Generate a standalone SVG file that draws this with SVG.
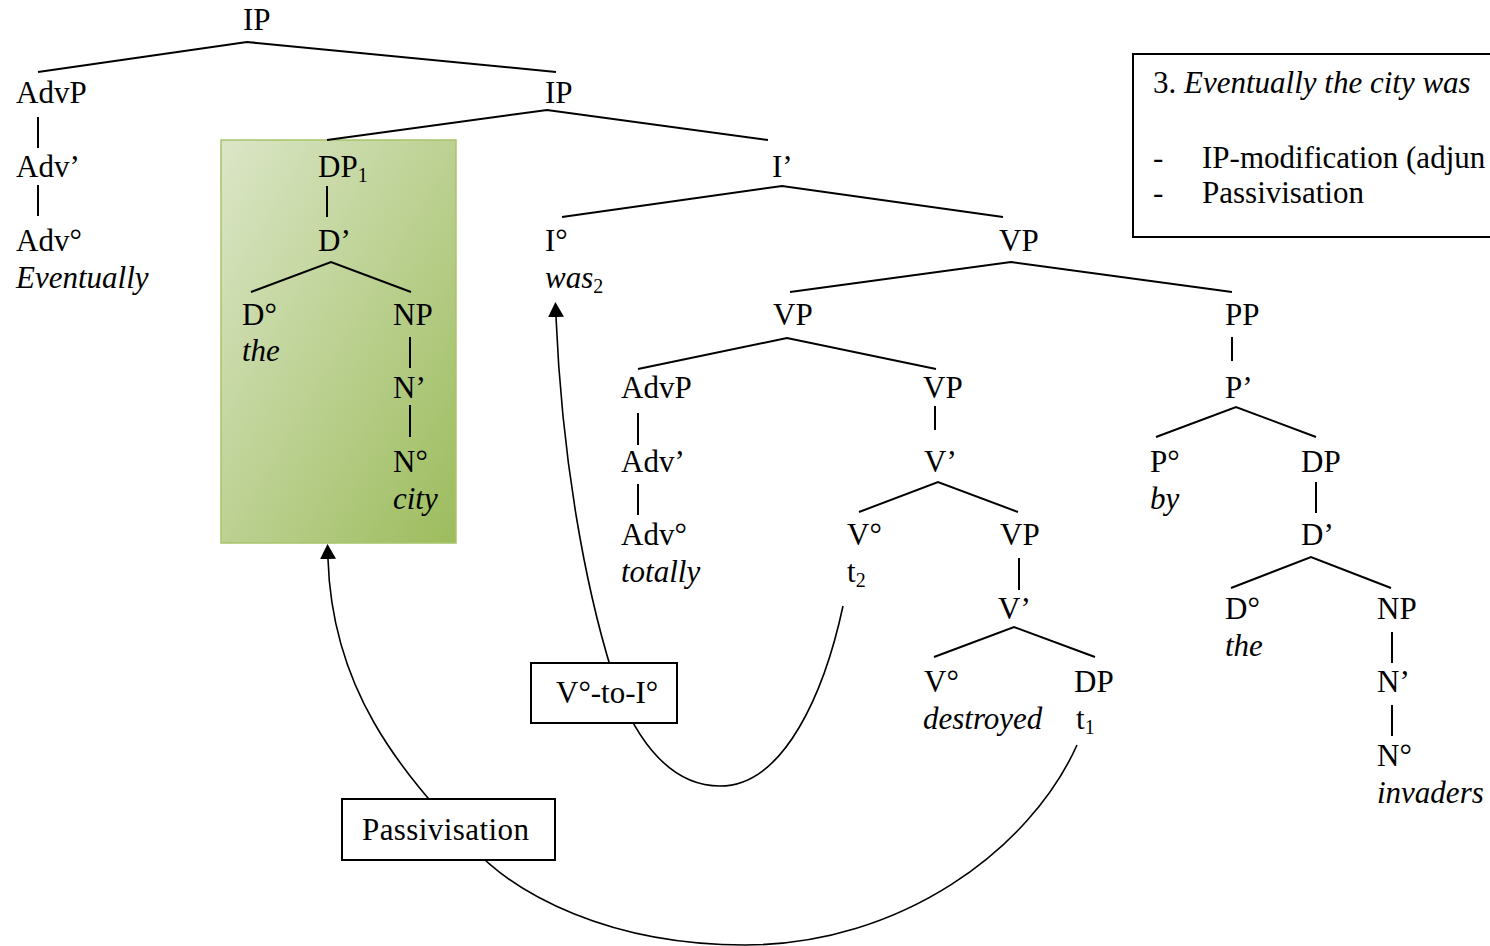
<svg xmlns="http://www.w3.org/2000/svg" width="1490" height="946" viewBox="0 0 1490 946">
<defs>
<style>
text{font-family:"Liberation Serif","Times New Roman",serif;font-size:31px;fill:#000}
.i{font-style:italic}
.n{font-style:normal}
.ln{stroke:#000;stroke-width:2;fill:none}
.arc{stroke:#000;stroke-width:1.6;fill:none}
.box{fill:#fff;stroke:#000;stroke-width:2}
</style>
<linearGradient id="g" x1="0" y1="0" x2="1" y2="1">
<stop offset="0" stop-color="#dbe6c7"/>
<stop offset="1" stop-color="#9dbc5d"/>
</linearGradient>
<marker id="ah" markerUnits="userSpaceOnUse" markerWidth="16" markerHeight="16" refX="0" refY="8" orient="auto" viewBox="0 0 16 16">
<path d="M0,0 L15,8 L0,16 z" fill="#000"/>
</marker>
</defs>
<rect id="highlight" x="221" y="140" width="235" height="403" fill="url(#g)" stroke="#a6c46a" stroke-width="1.5"/>
<g id="connectors">
<polyline class="ln" points="38,72 247,42 556,72"/>
<line class="ln" x1="38" y1="117" x2="38" y2="148"/>
<line class="ln" x1="38" y1="185" x2="38" y2="216"/>
<polyline class="ln" points="327,140 547,110 768,140"/>
<line class="ln" x1="327" y1="186" x2="327" y2="217"/>
<polyline class="ln" points="251,292 331,262 411,292"/>
<line class="ln" x1="410" y1="337" x2="410" y2="368"/>
<line class="ln" x1="410" y1="405" x2="410" y2="437"/>
<polyline class="ln" points="562,217 782,186 1003,217"/>
<polyline class="ln" points="790,292 1011,262 1232,292"/>
<polyline class="ln" points="638,369 787,338 936,369"/>
<line class="ln" x1="1232" y1="337" x2="1232" y2="361"/>
<line class="ln" x1="638" y1="413" x2="638" y2="445"/>
<line class="ln" x1="638" y1="484" x2="638" y2="515"/>
<line class="ln" x1="935" y1="406" x2="935" y2="430"/>
<polyline class="ln" points="859,512 938,482 1018,512"/>
<polyline class="ln" points="1156,437 1236,407 1316,437"/>
<line class="ln" x1="1316" y1="482" x2="1316" y2="513"/>
<line class="ln" x1="1019" y1="558" x2="1019" y2="590"/>
<polyline class="ln" points="1231,588 1311,557 1391,588"/>
<polyline class="ln" points="934,657 1014,627 1095,657"/>
<line class="ln" x1="1392" y1="632" x2="1392" y2="663"/>
<line class="ln" x1="1392" y1="705" x2="1392" y2="736"/>
<path class="arc" marker-end="url(#ah)" d="M843,606 C825,690 785,786 720,786 C665,786 630,730 612,672 C585,585 562,460 556,317"/>
<path class="arc" marker-end="url(#ah)" d="M1077,745 C1030,850 900,945 745,945 C610,945 515,895 470,845 C400,770 332,690 328,559"/>
</g>
<g id="n-ip"><text x="243" y="30">IP</text></g>
<g id="n-advp"><text x="16" y="103">AdvP</text></g>
<g id="n-ip2"><text x="545" y="103">IP</text></g>
<g id="n-advbar"><text x="16" y="177">Adv’</text></g>
<g id="n-dp1"><text x="318" y="177">DP<tspan font-size="20" dy="5">1</tspan></text></g>
<g id="n-ibar"><text x="772" y="177">I’</text></g>
<g id="n-adv0"><text x="16" y="251">Adv°</text><text class="i" x="16" y="288">Eventually</text></g>
<g id="n-dbar"><text x="318" y="251">D’</text></g>
<g id="n-i0"><text x="545" y="251">I°</text><text class="i" x="545" y="288">was<tspan class="n" font-size="20" dy="5">2</tspan></text></g>
<g id="n-vp1"><text x="999" y="251">VP</text></g>
<g id="n-d0"><text x="242" y="325">D°</text><text class="i" x="242" y="361">the</text></g>
<g id="n-np"><text x="393" y="325">NP</text></g>
<g id="n-vp2"><text x="773" y="325">VP</text></g>
<g id="n-pp"><text x="1225" y="325">PP</text></g>
<g id="n-nbar"><text x="393" y="398">N’</text></g>
<g id="n-advp2"><text x="621" y="398">AdvP</text></g>
<g id="n-vp3"><text x="923" y="398">VP</text></g>
<g id="n-pbar"><text x="1225" y="398">P’</text></g>
<g id="n-n0"><text x="393" y="472">N°</text><text class="i" x="393" y="509">city</text></g>
<g id="n-advbar2"><text x="621" y="472">Adv’</text></g>
<g id="n-vbar"><text x="924" y="472">V’</text></g>
<g id="n-p0"><text x="1150" y="472">P°</text><text class="i" x="1150" y="509">by</text></g>
<g id="n-dp2"><text x="1301" y="472">DP</text></g>
<g id="n-adv02"><text x="621" y="545">Adv°</text><text class="i" x="621" y="582">totally</text></g>
<g id="n-v0"><text x="847" y="545">V°</text><text x="847" y="582">t<tspan font-size="20" dy="5">2</tspan></text></g>
<g id="n-vp4"><text x="1000" y="545">VP</text></g>
<g id="n-dbar2"><text x="1301" y="545">D’</text></g>
<g id="n-vbar2"><text x="998" y="619">V’</text></g>
<g id="n-d02"><text x="1225" y="619">D°</text><text class="i" x="1225" y="656">the</text></g>
<g id="n-np2"><text x="1377" y="619">NP</text></g>
<g id="n-v02"><text x="924" y="692">V°</text><text class="i" x="923" y="729">destroyed</text></g>
<g id="n-dp3"><text x="1074" y="692">DP</text><text x="1076" y="729">t<tspan font-size="20" dy="5">1</tspan></text></g>
<g id="n-nbar2"><text x="1377" y="692">N’</text></g>
<g id="n-n02"><text x="1377" y="766">N°</text><text class="i" x="1377" y="803">invaders</text></g>
<g id="lbl-v2i"><rect class="box" x="531" y="663" width="146" height="60"/><text x="556" y="703">V°-to-I°</text></g>
<g id="lbl-pass"><rect class="box" x="342" y="799" width="213" height="61"/><text x="362" y="840" textLength="167">Passivisation</text></g>
<g id="note"><rect class="box" x="1133" y="54" width="400" height="183"/>
<text x="1153" y="93">3. <tspan class="i">Eventually the city was</tspan></text>
<text x="1153" y="168">-</text><text x="1202" y="168">IP-modification (adjun</text>
<text x="1153" y="203">-</text><text x="1202" y="203">Passivisation</text>
</g>
</svg>
